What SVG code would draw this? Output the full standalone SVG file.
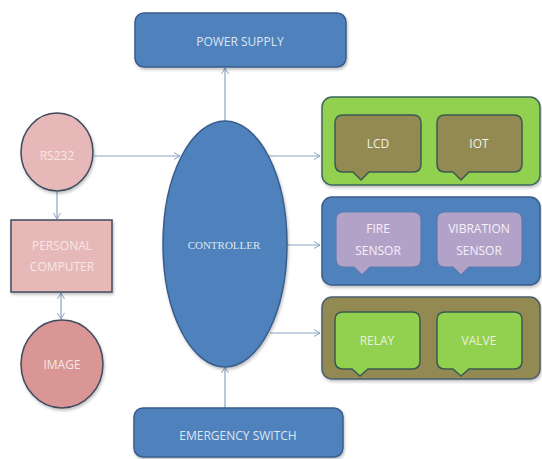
<svg xmlns="http://www.w3.org/2000/svg" width="542" height="459" viewBox="0 0 542 459">
<defs>
<marker id="arr" markerWidth="10" markerHeight="10" refX="8" refY="5" orient="auto" markerUnits="userSpaceOnUse">
<path d="M2,1.5 L8,5 L2,8.5" fill="none" stroke="#8aa4c4" stroke-width="1"/>
</marker>
<marker id="arrs" markerWidth="10" markerHeight="10" refX="2" refY="5" orient="auto" markerUnits="userSpaceOnUse">
<path d="M8,1.5 L2,5 L8,8.5" fill="none" stroke="#8aa4c4" stroke-width="1"/>
</marker>
<filter id="sh" x="-10%" y="-10%" width="130%" height="130%">
<feDropShadow dx="1" dy="2" stdDeviation="1.5" flood-color="#000" flood-opacity="0.25"/>
</filter>
</defs>
<style>
.t{font-family:"Open Sans","Liberation Sans",sans-serif;font-size:12px;text-anchor:middle;dominant-baseline:central}
.blue{fill:#4f81bd;stroke:#385d8a;stroke-width:1.5}
.pink{fill:#e6b9b8;stroke:#3f4a5e;stroke-width:1.5}
.pinkc{fill:#d99694;stroke:#3f4a5e;stroke-width:1.5}
.conn{fill:none;stroke:#8aa4c4;stroke-width:1.2}
.lt{fill:#dce6f2}
.pk{fill:#f7e6e6}
</style>
<rect width="542" height="459" fill="#ffffff"/>

<g id="connectors">
<line class="conn" x1="225" y1="121" x2="225" y2="68" marker-end="url(#arr)"/>
<line class="conn" x1="225" y1="408" x2="225" y2="367" marker-end="url(#arr)"/>
<line class="conn" x1="94" y1="156" x2="180" y2="156" marker-end="url(#arr)"/>
<line class="conn" x1="257" y1="156" x2="320" y2="156" marker-end="url(#arr)"/>
<line class="conn" x1="284" y1="245" x2="320" y2="245" marker-end="url(#arr)"/>
<line class="conn" x1="270" y1="333" x2="320" y2="333" marker-end="url(#arr)"/>
<line class="conn" x1="57" y1="192" x2="57" y2="219" marker-end="url(#arr)"/>
<line class="conn" x1="61" y1="293" x2="61" y2="319" marker-start="url(#arrs)" marker-end="url(#arr)"/>
</g>

<g id="power-supply">
<rect class="blue" x="135" y="13" width="211" height="54" rx="9" filter="url(#sh)"/>
<text class="t lt" x="240" y="41">POWER SUPPLY</text>
</g>

<g id="controller">
<ellipse class="blue" cx="225" cy="244" rx="62" ry="123" filter="url(#sh)"/>
<text x="224" y="245" font-family="'Liberation Serif',serif" font-size="11" fill="#dce6f2" text-anchor="middle" dominant-baseline="central">CONTROLLER</text>
</g>

<g id="emergency-switch">
<rect class="blue" x="134" y="408" width="209" height="49" rx="9" filter="url(#sh)"/>
<text class="t lt" x="238" y="435">EMERGENCY SWITCH</text>
</g>

<g id="rs232">
<ellipse class="pink" cx="57" cy="152" rx="36" ry="39" filter="url(#sh)"/>
<text class="t pk" x="57" y="155">RS232</text>
</g>

<g id="personal-computer">
<rect class="pink" x="11" y="220" width="101" height="72" filter="url(#sh)"/>
<text class="t pk" x="62" y="245">PERSONAL</text>
<text class="t pk" x="62" y="266">COMPUTER</text>
</g>

<g id="image">
<ellipse class="pinkc" cx="62" cy="364" rx="41" ry="44" filter="url(#sh)"/>
<text class="t pk" x="62" y="364" font-size="12.5">IMAGE</text>
</g>

<g id="output-group">
<rect x="322" y="97" width="218" height="88" rx="10" fill="#92d050" stroke="#3e6660" stroke-width="1.5" filter="url(#sh)"/>
<g id="lcd">
<path d="M343,115 H413 Q421,115 421,123 V164 Q421,172 413,172 H369 L361,180 L353,172 H343 Q335,172 335,164 V123 Q335,115 343,115 Z" fill="#938953" stroke="#3b5a50" stroke-width="1.5"/>
<text class="t" x="378" y="143" fill="#f2f2e6">LCD</text>
</g>
<g id="iot">
<path d="M445,115 H514 Q522,115 522,123 V164 Q522,172 514,172 H469 L461,180 L453,172 H445 Q437,172 437,164 V123 Q437,115 445,115 Z" fill="#938953" stroke="#3b5a50" stroke-width="1.5"/>
<text class="t" x="479" y="143" fill="#f2f2e6">IOT</text>
</g>
</g>

<g id="sensor-group">
<rect x="322" y="197" width="218" height="88" rx="10" fill="#4f81bd" stroke="#385d8a" stroke-width="1.5" filter="url(#sh)"/>
<g id="fire-sensor">
<path d="M344,212 H413 Q421,212 421,220 V259 Q421,267 413,267 H370 L362,275 L354,267 H344 Q336,267 336,259 V220 Q336,212 344,212 Z" fill="#b3a2c7" stroke="#5a7bb0" stroke-width="1.2"/>
<text class="t" x="378" y="228" fill="#f5f0fa">FIRE</text>
<text class="t" x="378" y="250" fill="#f5f0fa">SENSOR</text>
</g>
<g id="vibration-sensor">
<path d="M445,212 H514 Q522,212 522,220 V259 Q522,267 514,267 H469 L461,275 L453,267 H445 Q437,267 437,259 V220 Q437,212 445,212 Z" fill="#b3a2c7" stroke="#5a7bb0" stroke-width="1.2"/>
<text class="t" x="479" y="228" fill="#f5f0fa">VIBRATION</text>
<text class="t" x="479" y="250" fill="#f5f0fa">SENSOR</text>
</g>
</g>

<g id="actuator-group">
<rect x="322" y="297" width="218" height="82" rx="10" fill="#938953" stroke="#4a5e70" stroke-width="1.5" filter="url(#sh)"/>
<g id="relay">
<path d="M343,312 H412 Q420,312 420,320 V361 Q420,369 412,369 H368 L360,376 L352,369 H343 Q335,369 335,361 V320 Q335,312 343,312 Z" fill="#92d050" stroke="#3b5a50" stroke-width="1.5"/>
<text class="t" x="377" y="340" fill="#ebf1de">RELAY</text>
</g>
<g id="valve">
<path d="M445,312 H514 Q522,312 522,320 V361 Q522,369 514,369 H469 L461,376 L453,369 H445 Q437,369 437,361 V320 Q437,312 445,312 Z" fill="#92d050" stroke="#3b5a50" stroke-width="1.5"/>
<text class="t" x="479" y="340" fill="#ebf1de">VALVE</text>
</g>
</g>
</svg>
